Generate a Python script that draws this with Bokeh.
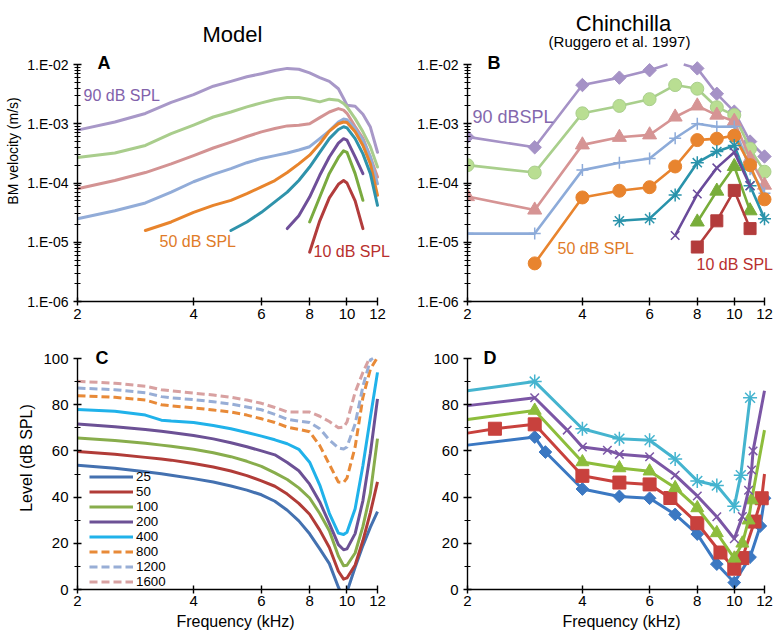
import math
from bokeh.plotting import figure
from bokeh.layouts import column, row
from bokeh.models import (FixedTicker, CustomJSTickFormatter, Label, Legend,
                          LegendItem, Range1d)
from bokeh.embed import file_html
from bokeh.resources import INLINE

FONT = "Liberation Sans"

# ---------------- Panel A : model, BM velocity (m/s) ----------------
a_f_full = [2, 2.5, 3, 3.5, 4, 4.5, 5, 5.5, 6, 6.5, 7, 7.5, 8, 8.5, 9, 9.5, 9.8, 10, 10.5, 11, 11.5, 12]
a90_v = [7.8e-4, 1.07e-3, 1.49e-3, 2.3e-3, 3.1e-3, 4.3e-3, 5.2e-3, 6.2e-3, 7.0e-3, 7.9e-3, 8.6e-3,
         8.3e-3, 7.2e-3, 6.0e-3, 5.2e-3, 3.9e-3, 2.66e-3, 2.05e-3, 1.97e-3, 1.45e-3, 8.8e-4, 3.3e-4]
a80_v = [2.7e-4, 3.2e-4, 4.3e-4, 6.8e-4, 9.5e-4, 1.3e-3, 1.58e-3, 1.93e-3, 2.25e-3, 2.56e-3, 2.77e-3,
         2.77e-3, 2.56e-3, 2.34e-3, 2.6e-3, 2.5e-3, 2.2e-3, 1.93e-3, 1.22e-3, 7.3e-4, 4.1e-4, 1.86e-4]
a70_v = [8.0e-5, 1.1e-4, 1.5e-4, 2.1e-4, 2.9e-4, 3.9e-4, 4.9e-4, 6.1e-4, 7.3e-4, 8.3e-4, 9.2e-4,
         9.4e-4, 1.0e-3, 1.27e-3, 1.58e-3, 1.8e-3, 1.7e-3, 1.5e-3, 9.0e-4, 5.7e-4, 2.75e-4, 1.26e-4]
a60_v = [2.5e-5, 3.4e-5, 4.6e-5, 7.0e-5, 1.05e-4, 1.4e-4, 1.75e-4, 2.2e-4, 2.6e-4, 2.9e-4, 3.2e-4,
         3.6e-4, 4.1e-4, 5.6e-4, 7.6e-4, 1.07e-3, 1.2e-3, 1.17e-3, 8.3e-4, 5.3e-4, 2.75e-4, 9.7e-5]
a50_f = [3, 3.5, 4, 4.5, 5, 5.5, 6, 6.5, 7, 7.5, 8, 8.5, 9, 9.5, 9.8, 10, 10.5, 11, 11.5, 12]
a50_v = [1.58e-5, 2.2e-5, 3.2e-5, 4.2e-5, 5.1e-5, 6.6e-5, 8.6e-5, 1.1e-4, 1.5e-4, 2.1e-4, 2.95e-4,
         4.6e-4, 7.5e-4, 1.0e-3, 1.07e-3, 1.05e-3, 7.3e-4, 4.3e-4, 2.1e-4, 6.2e-5]
a40_f = [5, 5.5, 6, 6.5, 7, 7.5, 8, 8.5, 9, 9.5, 9.8, 10, 10.5, 11, 11.5, 12]
a40_v = [1.58e-5, 2.2e-5, 3.2e-5, 4.8e-5, 7.0e-5, 1.1e-4, 1.86e-4, 3.3e-4, 5.6e-4, 8.0e-4, 8.9e-4,
         8.5e-4, 5.6e-4, 3.1e-4, 1.44e-4, 4.2e-5]
a30_f = [7, 7.5, 8, 8.5, 9, 9.5, 9.8, 10, 10.5, 11]
a30_v = [1.7e-5, 2.8e-5, 5.8e-5, 1.35e-4, 2.75e-4, 4.7e-4, 5.6e-4, 5.3e-4, 2.75e-4, 1.44e-4]
a20_f = [8, 8.5, 9, 9.5, 9.8, 10, 10.5, 11]
a20_v = [2.2e-5, 5.8e-5, 1.45e-4, 2.7e-4, 3.5e-4, 3.3e-4, 1.44e-4, 5.1e-5]
a10_f = [8, 8.5, 9, 9.5, 9.8, 10, 10.5, 11]
a10_v = [6.8e-6, 2.3e-5, 5.6e-5, 9.5e-5, 1.1e-4, 1.0e-4, 5.0e-5, 1.7e-5]

# ---------------- Panel B : chinchilla BM velocity (m/s) ----------------
b_f_full = [2, 3, 4, 5, 6, 7, 8, 9, 10, 11, 12]
b90_v = [6.0e-4, 4.0e-4, 4.5e-3, 6.0e-3, 8.0e-3, 1.1e-2, 8.6e-3, 3.2e-3, 1.6e-3, 5.0e-4, 2.8e-4]
b80_v = [2.0e-4, 1.5e-4, 1.5e-3, 2.0e-3, 2.6e-3, 4.5e-3, 3.9e-3, 1.9e-3, 1.4e-3, 3.8e-4, 1.55e-4]
b70_v = [5.9e-5, 3.5e-5, 4.4e-4, 5.9e-4, 6.5e-4, 1.3e-3, 2.0e-3, 1.4e-3, 1.1e-3, 2.6e-4, 9.2e-5]
b60_v = [1.4e-5, 1.4e-5, 1.65e-4, 2.2e-4, 2.6e-4, 5.7e-4, 1.0e-3, 8.9e-4, 9.0e-4, 1.7e-4, 6.7e-5]
b50_f = [3, 4, 5, 6, 7, 8, 9, 10, 11, 12]
b50_v = [4.4e-6, 5.7e-5, 7.4e-5, 8.5e-5, 1.9e-4, 5.3e-4, 5.6e-4, 6.3e-4, 2.0e-4, 5.3e-5]
b40_f = [5, 6, 7, 8, 9, 10, 11, 12]
b40_v = [2.3e-5, 2.5e-5, 6.3e-5, 2.2e-4, 3.4e-4, 4.3e-4, 9.0e-5, 2.5e-5]
b30_f = [7, 8, 9, 10, 11]
b30_v = [1.3e-5, 6.5e-5, 1.8e-4, 3.3e-4, 9.0e-5]
b20_f = [8, 9, 10, 11]
b20_v = [2.2e-5, 7.3e-5, 1.9e-4, 3.4e-5]
b10_f = [8, 9, 10, 11]
b10_v = [8.3e-6, 2.3e-5, 7.5e-5, 1.7e-5]

# ---------------- Panel C : model iso-velocity curves (dB SPL) ----------------
c_f = [2, 2.5, 3, 3.3, 3.5, 4, 4.5, 5, 5.5, 6, 6.5, 7, 7.5, 8, 8.5, 9, 9.5, 9.8, 10, 10.5, 11, 11.5, 12]
c_labels = ["25", "50", "100", "200", "400", "800", "1200", "1600"]
c25 = [53.8, 52.5, 51, 50.1, 49.5, 48, 46.5, 44.8, 43, 41, 38.2, 34.3, 29.7, 24.1, 17.6, 11.2, 1, -4, -1, 9.6, 19, 27, 33.7]
c50 = [59.7, 58.5, 57.2, 56.5, 56, 54.5, 53, 51.3, 49.3, 47, 44.7, 41.3, 37.3, 32.6, 25.7, 18.2, 7.9, 4.5, 5, 10.6, 21.2, 33.3, 46.6]
c100 = [65.6, 64.5, 63.3, 62.5, 62, 60.7, 59.2, 57.5, 55.5, 53.3, 50.5, 47.6, 44, 39.6, 32.9, 25.4, 14.5, 10.3, 10.5, 15.8, 27.3, 41.6, 65.3]
c200 = [71.6, 70.5, 69.3, 68.5, 68, 66.7, 65.2, 63.5, 61.8, 60, 58.3, 55, 51.4, 45.6, 37.9, 28.6, 19.4, 17.2, 17.6, 24.2, 38.5, 59, 82.5]
c400 = [77.9, 77.2, 75.5, 73.3, 72.9, 72.3, 71, 69.6, 68, 66.4, 64.8, 63.1, 60.7, 55.1, 45.2, 33, 24.4, 23.8, 24.8, 35, 53.7, 74.5, 94]
c800 = [83.9, 83.2, 82, 80, 79.5, 78.6, 77.7, 76.8, 75.5, 73.9, 72.3, 70.3, 69.3, 68.3, 62.3, 54.2, 46.5, 46.3, 48.2, 61.7, 83.2, 95.4, 100.5]
c1200 = [87.2, 86.5, 85.2, 83.5, 83, 82.2, 81.3, 80.3, 79, 77.8, 75.8, 73.7, 72.9, 72.3, 69.6, 64.8, 61.3, 60.8, 61.7, 71.7, 88, 99.4, 101]
c1600 = [90.1, 89.3, 88, 86.5, 86, 85, 84.2, 83.2, 82, 80.6, 78.8, 76.9, 76.8, 76.8, 75, 72.7, 70, 70.3, 72.5, 85.4, 94, 101, 101]

# ---------------- Panel D : chinchilla iso-velocity curves (dB SPL) ----------------
d_blue_f = [3, 3.2, 4, 5, 6, 7, 8, 9, 10, 11, 11.7, 12]
d_blue_db = [66, 59.5, 43.5, 40.3, 39.5, 32.5, 24, 11, 3, 14, 27.5, 39.5]
d_blue_start = 62.5
d_red_f = [2.36, 3, 4, 5, 6, 6.8, 8, 9.2, 10, 10.5, 11.3, 11.8]
d_red_db = [69.6, 71.5, 49.2, 46.3, 45.5, 39.6, 28.7, 16, 9, 13.6, 29.4, 39.5]
d_red_start, d_red_end = 67.7, 50
d_green_f = [3, 4, 5, 6, 7, 8, 9, 10, 10.5, 10.9, 11.1]
d_green_db = [77.5, 55.2, 52.6, 51.2, 44, 35.3, 24.5, 13.5, 20, 30, 38.7]
d_green_start, d_green_end = 73.6, 69
d_purple_f = [3, 3.65, 4, 4.65, 5, 6, 7, 8, 9, 10, 10.5, 10.9, 11.1, 11.2]
d_purple_db = [83, 69, 61.7, 60.3, 58.5, 57.5, 49.5, 40.5, 31.5, 22, 31.6, 43, 51.7, 60]
d_purple_start, d_purple_end = 79.6, 86
d_cyan_f = [3, 4, 5, 6, 7, 8, 9, 10, 10.4, 11.0]
d_cyan_db = [90, 69.6, 65.3, 64.6, 56.5, 47, 45, 36, 49.5, 83]
d_cyan_start = 86

x_ticks = [2, 4, 6, 8, 10, 12]
log_major = [1e-6, 1e-5, 1e-4, 1e-3, 1e-2]
log_minor = [k * 10.0 ** e for e in range(-6, -2) for k in range(2, 10)]
lin_major = [0, 20, 40, 60, 80, 100]
lin_minor = [10, 30, 50, 70, 90]

# geometry (pixels)
FW_L, FW_R = 300, 297          # frame widths, left / right column
FH_TOP, FH_BOT = 237, 231      # axis heights (data area) top / bottom row
TOP_PAD_T, TOP_PAD_B = 64, 32  # space above the axes (titles, letters)
RIGHT_PAD_L, RIGHT_PAD_R = 16, 11
BL_L, BL_R = 77, 74


def clip_top(xs, ys, ymax, logy):
    """Split a polyline where it leaves the top of the axes."""
    tf = (lambda v: math.log10(v)) if logy else (lambda v: v)
    tmax = tf(ymax)
    segs, cur = [], []
    for i in range(len(xs)):
        if i > 0:
            a_in, b_in = tf(ys[i - 1]) <= tmax, tf(ys[i]) <= tmax
            if a_in != b_in:
                t = (tmax - tf(ys[i - 1])) / (tf(ys[i]) - tf(ys[i - 1]))
                lx = math.log(xs[i - 1]) + t * (math.log(xs[i]) - math.log(xs[i - 1]))
                cur.append((math.exp(lx), ymax))
                if a_in:
                    segs.append(cur)
                    cur = []
        if tf(ys[i]) <= tmax:
            cur.append((xs[i], ys[i]))
    if cur:
        segs.append(cur)
    return [[p[0] for p in s] for s in segs], [[p[1] for p in s] for s in segs]


def make_fig(fw, pad_r, bl, log_y, fh, pad_t, bb):
    x_end = 12 * math.exp(pad_r * math.log(6) / fw)
    if log_y:
        y_rng = Range1d(1e-6, 1e-2 * 10 ** (pad_t * 4 / fh))
    else:
        y_rng = Range1d(0, 100 + pad_t * 100 / fh)
    p = figure(width=bl + fw + pad_r, height=pad_t + fh + bb, x_axis_type="log",
               y_axis_type="log" if log_y else "linear",
               x_range=Range1d(2, x_end), y_range=y_rng,
               output_backend="svg", toolbar_location=None,
               min_border_left=bl, min_border_right=0,
               min_border_top=0, min_border_bottom=bb)
    p.outline_line_color = None
    p.grid.visible = False
    p.xaxis.ticker = FixedTicker(ticks=x_ticks, minor_ticks=[])
    p.xaxis.formatter = CustomJSTickFormatter(code="return tick.toFixed(0);")
    p.xaxis.bounds = (2, 12)
    if log_y:
        p.yaxis.ticker = FixedTicker(ticks=log_major, minor_ticks=log_minor)
        p.yaxis.formatter = CustomJSTickFormatter(code="""
            const e = Math.round(Math.log10(tick));
            const s = String(Math.abs(e)).padStart(2, '0');
            return '1.E' + (e < 0 ? '-' : '+') + s;""")
        p.yaxis.major_label_text_font_size = "14px"
        p.yaxis.bounds = (1e-6, 1e-2)
    else:
        p.yaxis.ticker = FixedTicker(ticks=lin_major, minor_ticks=lin_minor)
        p.yaxis.major_label_text_font_size = "15px"
        p.yaxis.bounds = (0, 100)
    for ax in (p.xaxis[0], p.yaxis[0]):
        ax.axis_line_color = "black"
        ax.axis_line_width = 1.4
        ax.major_tick_line_color = "black"
        ax.major_tick_line_width = 1.4
        ax.minor_tick_line_color = "black"
        ax.minor_tick_line_width = 1.2
        ax.major_tick_in = 4
        ax.major_tick_out = 4
        ax.minor_tick_in = 3
        ax.minor_tick_out = 3
        ax.major_label_text_font = FONT
        ax.major_label_text_color = "black"
        ax.axis_label_text_font = FONT
        ax.axis_label_text_font_style = "normal"
        ax.axis_label_text_color = "black"
    p.xaxis.major_label_text_font_size = "15px"
    p.xaxis.major_label_standoff = 3
    p.yaxis.major_label_standoff = 5
    return p


def add_text(p, x, y, text, size, color="black", style="normal", align="left"):
    p.add_layout(Label(x=x, y=y, x_units="screen", y_units="screen", text=text,
                       text_font=FONT, text_font_size=size, text_color=color,
                       text_font_style=style, text_align=align,
                       text_baseline="middle"))


# ---------- A ----------
pA = make_fig(FW_L, RIGHT_PAD_L, BL_L, True, FH_TOP, TOP_PAD_T, 25)
pA.yaxis.axis_label = "BM velocity (m/s)"
pA.yaxis.axis_label_text_font_size = "14px"
pA.yaxis.axis_label_standoff = 3
a_series = [
    (a_f_full, a90_v, "#a898c8"), (a_f_full, a80_v, "#a9cd8c"),
    (a_f_full, a70_v, "#d39393"), (a_f_full, a60_v, "#92acd8"),
    (a50_f, a50_v, "#e8842c"), (a40_f, a40_v, "#2f93ab"),
    (a30_f, a30_v, "#6f4f99"), (a20_f, a20_v, "#7aaa3f"),
    (a10_f, a10_v, "#b23c3c"),
]
for f, v, col in a_series:
    xs, ys = clip_top(f, v, 1e-2, True)
    pA.multi_line(xs, ys, line_color=col, line_width=3, line_join="round", line_cap="round")
add_text(pA, 155, FH_TOP + 30, "Model", "22px", align="center")
add_text(pA, 20, FH_TOP + 2, "A", "18px", style="bold")
add_text(pA, 6, FH_TOP - 31, "90 dB SPL", "16px", "#8262ab")
add_text(pA, 82, FH_TOP - 177, "50 dB SPL", "16px", "#e07b28")
add_text(pA, 236, FH_TOP - 187, "10 dB SPL", "16px", "#b8302e")

# ---------- B ----------
pB = make_fig(FW_R, RIGHT_PAD_R, BL_R, True, FH_TOP, TOP_PAD_T, 25)
b_series = [
    (b_f_full, b90_v, "#a592c6", "square", 9.5, 0.785, "#a592c6", 1),
    (b_f_full, b80_v, "#a9cf8c", "circle", 13, 0, "#b9de92", 1),
    (b_f_full, b70_v, "#d69494", "triangle", 14, 0, "#d69494", 1),
    (b_f_full, b60_v, "#8dabd9", "cross", 12, 0, "#8dabd9", 1.5),
    (b50_f, b50_v, "#e8842e", "circle", 13, 0, "#e8842e", 1),
    (b40_f, b40_v, "#2993ab", "asterisk", 13, 0, "#2993ab", 1.5),
    (b30_f, b30_v, "#6a4b9b", "x", 12, 0, "#6a4b9b", 1.5),
    (b20_f, b20_v, "#78ad3a", "triangle", 14, 0, "#78ad3a", 1),
    (b10_f, b10_v, "#b33c3c", "square", 12, 0, "#b33c3c", 1),
]
for f, v, col, mk, sz, ang, fill, lw in b_series:
    xs, ys = clip_top(f, v, 1e-2, True)
    pB.multi_line(xs, ys, line_color=col, line_width=2.6, line_join="round")
    mf = [a for a, b in zip(f, v) if b <= 1e-2]
    mv = [b for b in v if b <= 1e-2]
    pB.scatter(mf, mv, marker=mk, size=sz, angle=ang, fill_color=fill,
               line_color=col, line_width=lw)
add_text(pB, 156, FH_TOP + 41, "Chinchilla", "22px", align="center")
add_text(pB, 152, FH_TOP + 23, "(Ruggero et al. 1997)", "15px", align="center")
add_text(pB, 20, FH_TOP + 2, "B", "18px", style="bold")
add_text(pB, 5, FH_TOP - 52, "90 dBSPL", "18px", "#8468ad")
add_text(pB, 90, FH_TOP - 184, "50 dB SPL", "16px", "#e07b28")
add_text(pB, 229, FH_TOP - 200, "10 dB SPL", "16px", "#b8302e")

# ---------- C ----------
pC = make_fig(FW_L, RIGHT_PAD_L, BL_L, False, FH_BOT, TOP_PAD_B, 47)
pC.yaxis.axis_label = "Level (dB SPL)"
pC.yaxis.axis_label_text_font_size = "16px"
pC.yaxis.axis_label_standoff = 5
pC.xaxis.axis_label = "Frequency (kHz)"
pC.xaxis.axis_label_text_font_size = "16px"
pC.xaxis.axis_label_standoff = 4
pC.xaxis.major_label_standoff = 2
c_vals = [c25, c50, c100, c200, c400, c800, c1200, c1600]
c_cols = ["#4471b0", "#b13c38", "#88ad4c", "#6c5195", "#20b2ea", "#e88a38", "#98aed6", "#d8a1a1"]
c_dash = ["solid"] * 5 + ["8 4"] * 3
items = []
for lab, vals, col, dash in zip(c_labels, c_vals, c_cols, c_dash):
    xs, ys = clip_top(c_f, vals, 100, False)
    r = pC.multi_line(xs, ys, line_color=col, line_width=3, line_dash=dash, line_join="round")
    items.append(LegendItem(label=lab, renderers=[r]))
leg = Legend(items=items, location=(12, 0), orientation="vertical",
             border_line_alpha=0, background_fill_alpha=0, padding=0, spacing=0,
             margin=0, glyph_width=44, glyph_height=13, label_height=13,
             label_standoff=3, label_text_font=FONT, label_text_font_size="13.3px",
             label_text_color="black")
pC.add_layout(leg)
add_text(pC, 18, FH_BOT + 1, "C", "18px", style="bold")

# ---------- D ----------
pD = make_fig(FW_R, RIGHT_PAD_R, BL_R, False, FH_BOT, TOP_PAD_B, 47)
pD.xaxis.axis_label = "Frequency (kHz)"
pD.xaxis.axis_label_text_font_size = "16px"
pD.xaxis.axis_label_standoff = 4
pD.xaxis.major_label_standoff = 2
d_series = [
    (d_blue_f, d_blue_db, d_blue_start, None, "#3b78c2", "square", 9, 0.785, "#3b78c2", 1),
    (d_red_f, d_red_db, d_red_start, d_red_end, "#c8413d", "square", 13, 0, "#c8413d", 1),
    (d_green_f, d_green_db, d_green_start, d_green_end, "#8dbd3c", "triangle", 13, 0, "#8dbd3c", 1),
    (d_purple_f, d_purple_db, d_purple_start, d_purple_end, "#7b56a5", "x", 12, 0, "#7b56a5", 1.5),
    (d_cyan_f, d_cyan_db, d_cyan_start, None, "#45b4cf", "asterisk", 14, 0, "#45b4cf", 1.5),
]
for f, db, start, end, col, mk, sz, ang, fill, lw in d_series:
    lf = [2] + list(f) + ([12] if end is not None else [])
    ldb = [start] + list(db) + ([end] if end is not None else [])
    pD.line(lf, ldb, line_color=col, line_width=3, line_join="round")
    pD.scatter(f, db, marker=mk, size=sz, angle=ang, fill_color=fill,
               line_color=col, line_width=lw)
add_text(pD, 16, FH_BOT + 1, "D", "18px", style="bold")

layout = column(row(pA, pB, spacing=0), row(pC, pD, spacing=0), spacing=0)
open("out.html", "w").write(file_html(layout, INLINE, "BM velocity"))
